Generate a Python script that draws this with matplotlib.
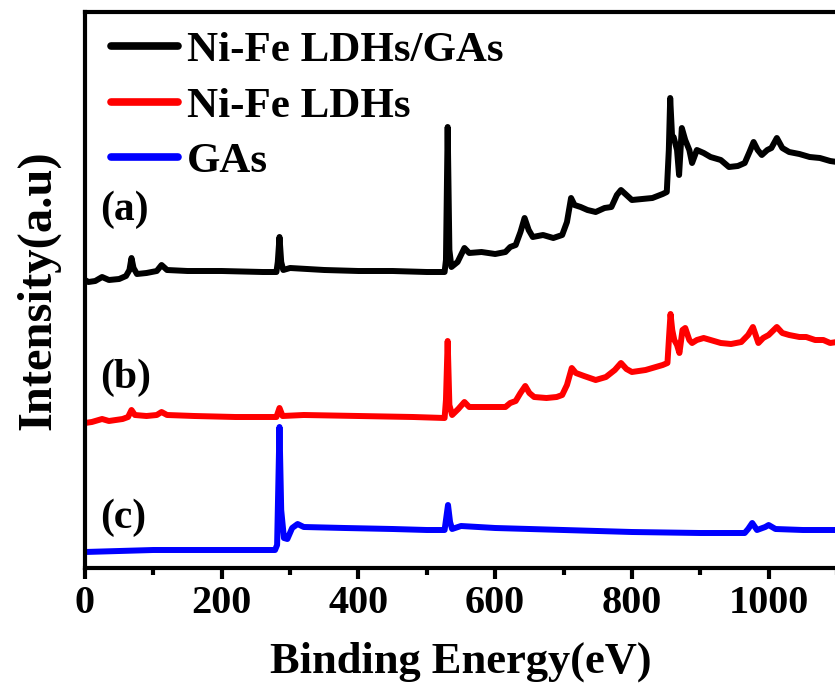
import matplotlib
matplotlib.use("Agg")
import matplotlib.pyplot as plt
from matplotlib.ticker import MultipleLocator

# ---------------- data (binding energy in eV, intensity in a.u.) ----------------
energy_a = [0, 5, 15, 25, 35, 50, 60, 65, 68, 71, 76, 90, 105, 112, 120, 150, 200, 260, 280,
            282, 284.5, 287, 290, 300, 350, 400, 450, 500, 526, 528, 530.5, 533, 536, 545, 555,
            562, 580, 600, 615, 622, 630, 637, 643, 649, 655, 670, 685, 698, 705, 711, 716, 725,
            735, 747, 760, 770, 778, 784, 792, 800, 815, 830, 845, 851, 854, 856, 859, 861, 866,
            869, 873, 878, 884, 888, 895, 905, 915, 930, 942, 955, 965, 972, 978, 984, 990, 998,
            1004, 1012, 1020, 1030, 1045, 1060, 1075, 1090, 1100]
intensity_a = [288, 286, 287, 291, 288, 289, 292, 298, 310, 300, 294, 295, 297, 303, 298, 297, 297,
               296, 296, 306, 331, 306, 298, 300, 298, 297, 297, 296, 296, 308, 441, 318, 301, 306,
               320, 315, 316, 314, 316, 321, 323, 336, 350, 338, 331, 333, 330, 333, 346, 370, 363,
               361, 358, 356, 360, 361, 373, 378, 373, 368, 369, 370, 374, 376, 418, 470, 428, 431,
               418, 393, 440, 428, 418, 405, 418, 415, 411, 408, 401, 402, 405, 416, 426, 418, 413,
               418, 420, 430, 420, 416, 414, 411, 410, 407, 406]

energy_b = [0, 10, 25, 35, 55, 63, 68, 73, 90, 105, 112, 120, 160, 220, 280, 284.5, 289, 320, 400,
            480, 526, 528, 530.5, 533, 537, 546, 555, 562, 590, 615, 622, 630, 637, 644, 650, 657,
            675, 690, 698, 705, 712, 718, 730, 747, 762, 775, 784, 792, 800, 820, 845, 852, 854.5,
            856.5, 859, 862, 866, 869.5, 874, 878, 884, 888, 895, 905, 915, 930, 945, 960, 970, 977,
            985, 992, 1000, 1012, 1020, 1030, 1045, 1055, 1068, 1080, 1090, 1100]
intensity_b = [145, 146, 149, 147, 149, 151, 158, 153, 152, 153, 156, 153, 152, 151, 151, 160, 152,
               153, 152, 151, 150, 168, 227, 163, 153, 159, 166, 161, 161, 161, 165, 167, 175, 182,
               175, 171, 170, 171, 173, 183, 200, 195, 192, 188, 191, 198, 205, 199, 196, 198, 203,
               205, 233, 254, 238, 228, 223, 215, 238, 240, 228, 225, 228, 230, 228, 225, 224, 226,
               233, 241, 225, 230, 233, 241, 235, 233, 231, 231, 228, 228, 225, 226]

energy_c = [0, 50, 100, 200, 278, 281, 284.5, 287, 291, 296, 303, 311, 320, 380, 450, 500, 526, 528,
            531, 534, 537, 550, 600, 700, 800, 900, 965, 970, 976, 983, 995, 1000, 1010, 1050, 1100]
intensity_c = [16, 17, 18, 18, 18, 23, 141, 58, 30, 29, 40, 44, 41, 40, 39, 38, 38, 48, 63, 46, 39,
               42, 40, 38, 36, 35, 35, 39, 45, 38, 41, 43, 39, 38, 38]

series_labels = ["Ni-Fe LDHs/GAs", "Ni-Fe LDHs", "GAs"]
series_colors = ["black", "red", "blue"]
panel_labels = ["(a)", "(b)", "(c)"]
panel_label_pos = [(22, 358), (22, 190), (22, 50)]
x_ticks = [0, 200, 400, 600, 800, 1000]

# ---------------- figure ----------------
plt.rcParams['font.family'] = ['Liberation Serif', 'DejaVu Serif']
plt.rcParams['font.weight'] = 'bold'

fig = plt.figure(figsize=(8.35, 6.89), dpi=100)
ax = fig.add_axes([85/835, 1 - 568/689, 752/835, (568 - 12)/689])

for e, y, c, lab in zip([energy_a, energy_b, energy_c],
                        [intensity_a, intensity_b, intensity_c],
                        series_colors, series_labels):
    ax.plot(e, y, color=c, lw=4.3, label=lab, solid_joinstyle='round',
            solid_capstyle='round')

for txt, (px, py) in zip(panel_labels, panel_label_pos):
    ax.text(px, py, txt, fontsize=30, fontweight='bold', ha='left', va='center')

ax.set_xlim(0, 1100)
ax.set_ylim(0, 556)
ax.set_xticks(x_ticks)
ax.xaxis.set_minor_locator(MultipleLocator(100))
ax.set_yticks([])
ax.tick_params(axis='x', which='major', direction='out', length=8, width=3,
               labelsize=29, pad=4)
ax.tick_params(axis='x', which='minor', direction='out', length=5, width=3)
for lbl in ax.get_xticklabels():
    lbl.set_fontweight('bold')
for sp in ax.spines.values():
    sp.set_linewidth(3)

ax.set_xlabel("Binding Energy(eV)", fontsize=32, fontweight='bold', labelpad=14)
ax.set_ylabel("Intensity(a.u)", fontsize=35, fontweight='bold', labelpad=18)

leg = ax.legend(loc='upper left', bbox_to_anchor=(-0.005, 1.02), frameon=False,
                fontsize=31, handlelength=1.55, handletextpad=0.2,
                labelspacing=0.38, borderaxespad=0.3)
for t in leg.get_texts():
    t.set_fontweight('bold')
for h in leg.get_lines():
    h.set_linewidth(5.5)

fig.savefig("out.png", dpi=100)
